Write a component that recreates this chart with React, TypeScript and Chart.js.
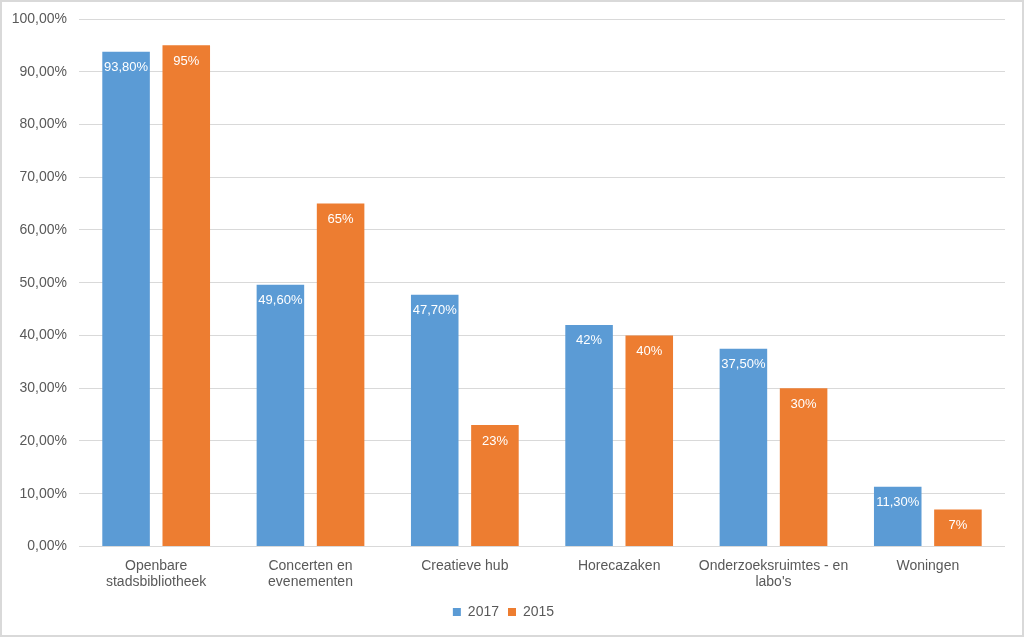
import React, { useEffect, useRef } from "react";
import { Chart, registerables } from "chart.js";

Chart.register(...registerables);

const categories: string[][] = [
  ["Openbare", "stadsbibliotheek"],
  ["Concerten en", "evenementen"],
  ["Creatieve hub"],
  ["Horecazaken"],
  ["Onderzoeksruimtes - en", "labo's"],
  ["Woningen"],
];
const series2017: number[] = [93.8, 49.6, 47.7, 42, 37.5, 11.3];
const series2015: number[] = [95, 65, 23, 40, 30, 7];
const labels2017: string[] = ["93,80%", "49,60%", "47,70%", "42%", "37,50%", "11,30%"];
const labels2015: string[] = ["95%", "65%", "23%", "40%", "30%", "7%"];
const yTicks: number[] = [0, 10, 20, 30, 40, 50, 60, 70, 80, 90, 100];

const FONT = "'Liberation Sans', Arial, sans-serif";
const TEXT = "#595959";

const valueLabelPlugin = {
  id: "valueLabels",
  afterDatasetsDraw(chart: any) {
    const ctx = chart.ctx;
    const all = [labels2017, labels2015];
    ctx.save();
    ctx.fillStyle = "#ffffff";
    ctx.font = `13px ${FONT}`;
    ctx.textAlign = "center";
    ctx.textBaseline = "middle";
    chart.data.datasets.forEach((_: any, di: number) => {
      const meta = chart.getDatasetMeta(di);
      meta.data.forEach((bar: any, i: number) => {
        ctx.fillText(all[di][i], bar.x, bar.y + 16);
      });
    });
    ctx.restore();
  },
};

export default function App() {
  const ref = useRef<HTMLCanvasElement>(null);
  useEffect(() => {
    document.body.style.margin = "0";
    const chart = new Chart(ref.current as HTMLCanvasElement, {
      type: "bar",
      data: {
        labels: categories as any,
        datasets: [
          { label: "2017", data: series2017, backgroundColor: "#5B9BD5", barPercentage: 0.79, categoryPercentage: 0.78 },
          { label: "2015", data: series2015, backgroundColor: "#ED7D31", barPercentage: 0.79, categoryPercentage: 0.78 },
        ],
      },
      options: {
        animation: false,
        responsive: false,
        maintainAspectRatio: false,
        layout: { padding: { left: 0, right: 17, top: 17, bottom: 6 } },
        scales: {
          x: {
            grid: { display: false, drawTicks: false },
            border: { display: false },
            ticks: { color: TEXT, font: { family: FONT, size: 14 }, maxRotation: 0, autoSkip: false, padding: 11 },
            afterFit: (scale: any) => {
              scale.height -= 6;
            },
          },
          y: {
            min: 0,
            max: 100,
            afterBuildTicks: (scale: any) => {
              scale.ticks = yTicks.map((v) => ({ value: v }));
            },
            afterFit: (scale: any) => {
              scale.width = 77;
              scale.paddingTop = 0;
              scale.paddingBottom = 0;
            },
            grid: { color: "#D9D9D9", drawTicks: false, lineWidth: 1 },
            border: { display: false },
            ticks: {
              color: TEXT,
              font: { family: FONT, size: 14 },
              padding: 12,
              callback: (v: any) => Number(v).toFixed(2).replace(".", ",") + "%",
            },
          },
        },
        plugins: {
          legend: {
            position: "bottom",
            labels: {
              color: TEXT,
              font: { family: FONT, size: 14 },
              boxWidth: 8,
              boxHeight: 8,
              padding: 9,
            },
          },
          tooltip: { enabled: false },
        },
      },
      plugins: [valueLabelPlugin],
    } as any);
    return () => chart.destroy();
  }, []);
  return (
    <div
      style={{
        position: "absolute",
        left: 0,
        top: 0,
        width: 1024,
        height: 637,
        border: "2px solid #D9D9D9",
        boxSizing: "border-box",
        background: "#fff",
      }}
    >
      <canvas ref={ref} width={1020} height={633} style={{ display: "block" }} />
    </div>
  );
}
